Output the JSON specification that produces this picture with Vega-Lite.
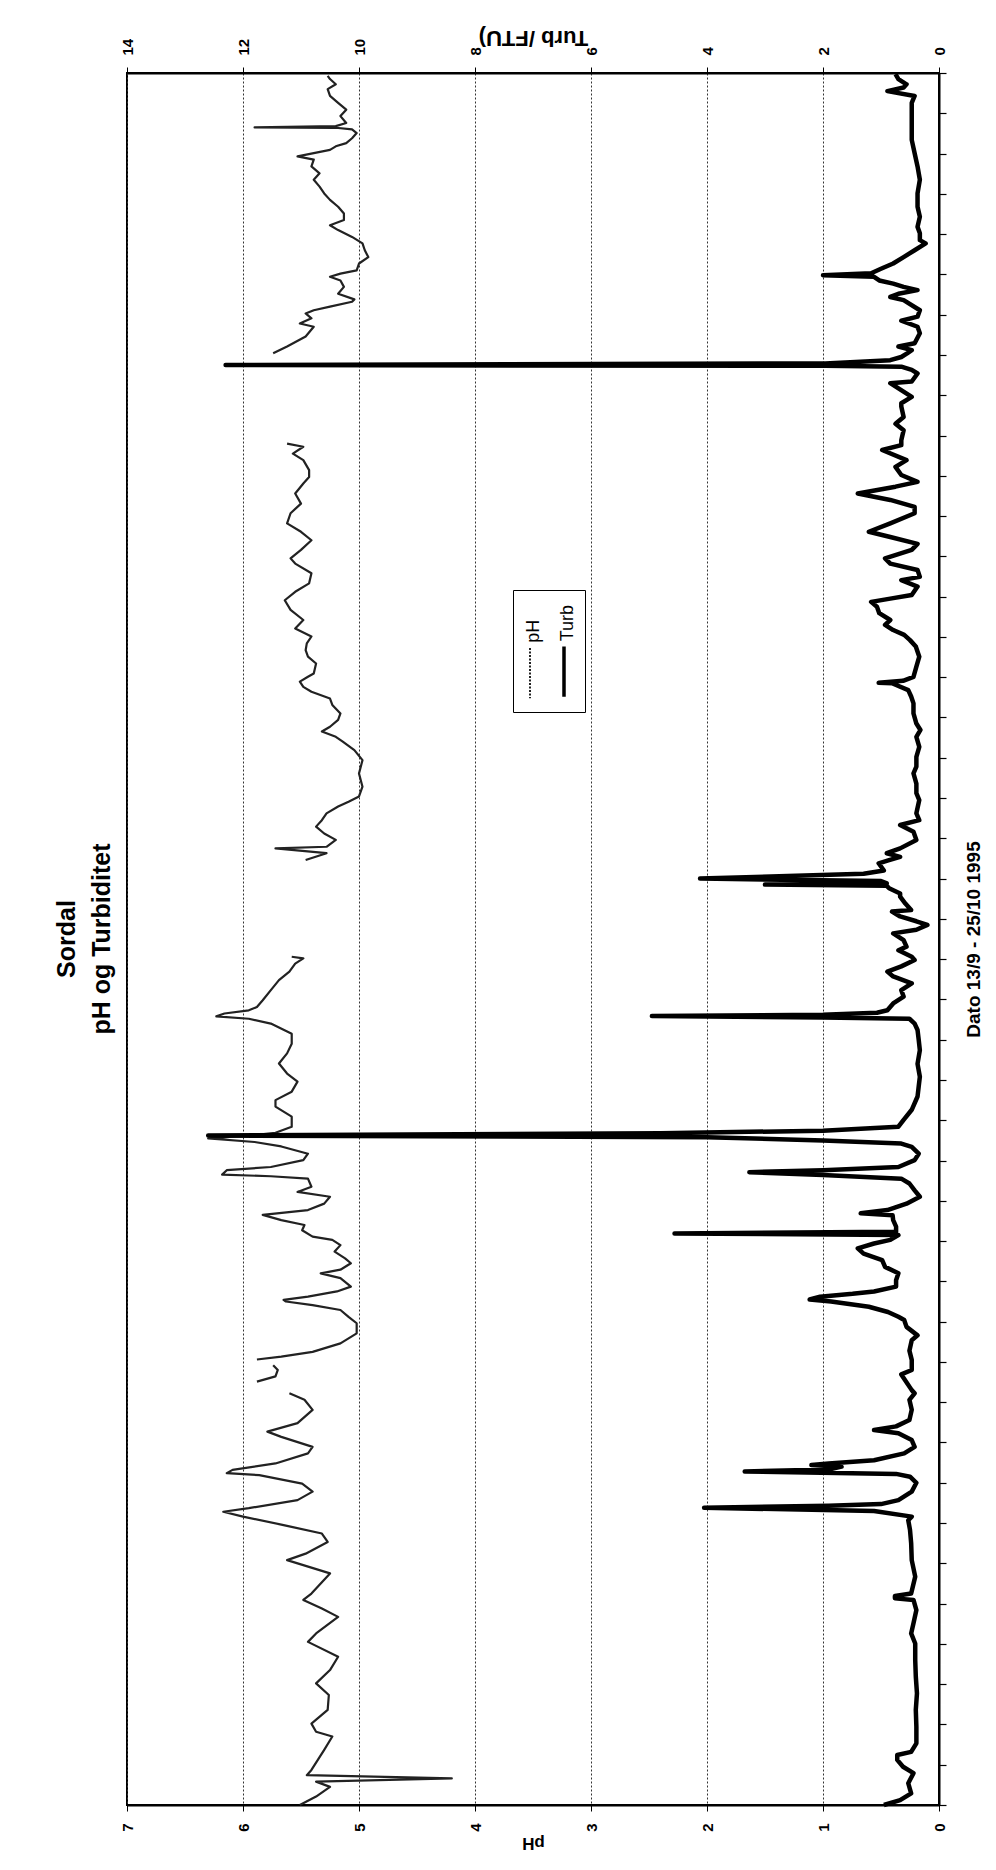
{
  "$schema": "https://vega.github.io/schema/vega-lite/v6.json",
  "width": 812,
  "height": 1732,
  "autosize": {"type": "none"},
  "padding": {"left": 127, "top": 73, "right": 57, "bottom": 65},
  "background": "white",
  "config": {
    "font": "Liberation Sans",
    "view": {"stroke": "black", "strokeWidth": 2}
  },
  "title": {
    "text": ["Sordal", "pH  og Turbiditet"],
    "orient": "left",
    "anchor": "middle",
    "frame": "group",
    "offset": 5,
    "fontSize": 25,
    "fontWeight": "bold",
    "lineHeight": 35,
    "color": "black"
  },
  "data": {"values": [
    {"s":"pH","g":1,"t":0,"v":5.51},{"s":"pH","g":1,"t":0.21,"v":5.37},{"s":"pH","g":1,"t":0.45,"v":5.25},{"s":"pH","g":1,"t":0.58,"v":5.37},{"s":"pH","g":1,"t":0.66,"v":4.2},{"s":"pH","g":1,"t":0.74,"v":5.45},{"s":"pH","g":1,"t":0.87,"v":5.41},{"s":"pH","g":1,"t":1.37,"v":5.30},{"s":"pH","g":1,"t":1.70,"v":5.23},{"s":"pH","g":1,"t":1.82,"v":5.37},{"s":"pH","g":1,"t":2.02,"v":5.41},{"s":"pH","g":1,"t":2.36,"v":5.27},{"s":"pH","g":1,"t":2.73,"v":5.26},{"s":"pH","g":1,"t":3.02,"v":5.37},{"s":"pH","g":1,"t":3.35,"v":5.25},{"s":"pH","g":1,"t":3.68,"v":5.18},{"s":"pH","g":1,"t":4.05,"v":5.44},{"s":"pH","g":1,"t":4.26,"v":5.37},{"s":"pH","g":1,"t":4.67,"v":5.18},{"s":"pH","g":1,"t":4.88,"v":5.32},{"s":"pH","g":1,"t":5.09,"v":5.48},{"s":"pH","g":1,"t":5.25,"v":5.41},{"s":"pH","g":1,"t":5.75,"v":5.25},{"s":"pH","g":1,"t":6.08,"v":5.62},{"s":"pH","g":1,"t":6.24,"v":5.46},{"s":"pH","g":1,"t":6.53,"v":5.27},{"s":"pH","g":1,"t":6.74,"v":5.32},{"s":"pH","g":1,"t":6.95,"v":5.65},{"s":"pH","g":1,"t":7.16,"v":6.0},{"s":"pH","g":1,"t":7.28,"v":6.17},{"s":"pH","g":1,"t":7.37,"v":5.95},{"s":"pH","g":1,"t":7.57,"v":5.53},{"s":"pH","g":1,"t":7.78,"v":5.40},{"s":"pH","g":1,"t":7.98,"v":5.49},{"s":"pH","g":1,"t":8.19,"v":5.86},{"s":"pH","g":1,"t":8.24,"v":6.14},{"s":"pH","g":1,"t":8.32,"v":6.09},{"s":"pH","g":1,"t":8.48,"v":5.72},{"s":"pH","g":1,"t":8.73,"v":5.44},{"s":"pH","g":1,"t":8.89,"v":5.40},{"s":"pH","g":1,"t":9.14,"v":5.67},{"s":"pH","g":1,"t":9.27,"v":5.79},{"s":"pH","g":1,"t":9.48,"v":5.53},{"s":"pH","g":1,"t":9.81,"v":5.40},{"s":"pH","g":1,"t":10.06,"v":5.47},{"s":"pH","g":1,"t":10.22,"v":5.60},
    {"s":"pH","g":2,"t":10.51,"v":5.88},{"s":"pH","g":2,"t":10.64,"v":5.72},{"s":"pH","g":2,"t":10.80,"v":5.70},{"s":"pH","g":2,"t":10.92,"v":5.74},
    {"s":"pH","g":3,"t":11.06,"v":5.88},{"s":"pH","g":3,"t":11.13,"v":5.67},{"s":"pH","g":3,"t":11.25,"v":5.40},{"s":"pH","g":3,"t":11.46,"v":5.16},{"s":"pH","g":3,"t":11.71,"v":5.02},{"s":"pH","g":3,"t":11.96,"v":5.02},{"s":"pH","g":3,"t":12.12,"v":5.09},{"s":"pH","g":3,"t":12.29,"v":5.16},{"s":"pH","g":3,"t":12.41,"v":5.40},{"s":"pH","g":3,"t":12.50,"v":5.63},{"s":"pH","g":3,"t":12.54,"v":5.65},{"s":"pH","g":3,"t":12.62,"v":5.44},{"s":"pH","g":3,"t":12.75,"v":5.19},{"s":"pH","g":3,"t":12.87,"v":5.07},{"s":"pH","g":3,"t":13.08,"v":5.16},{"s":"pH","g":3,"t":13.20,"v":5.33},{"s":"pH","g":3,"t":13.29,"v":5.16},{"s":"pH","g":3,"t":13.45,"v":5.07},{"s":"pH","g":3,"t":13.57,"v":5.12},{"s":"pH","g":3,"t":13.74,"v":5.21},{"s":"pH","g":3,"t":13.90,"v":5.16},{"s":"pH","g":3,"t":14.03,"v":5.23},{"s":"pH","g":3,"t":14.11,"v":5.40},{"s":"pH","g":3,"t":14.27,"v":5.49},{"s":"pH","g":3,"t":14.40,"v":5.47},{"s":"pH","g":3,"t":14.52,"v":5.67},{"s":"pH","g":3,"t":14.65,"v":5.83},{"s":"pH","g":3,"t":14.77,"v":5.44},{"s":"pH","g":3,"t":14.93,"v":5.30},{"s":"pH","g":3,"t":15.10,"v":5.25},{"s":"pH","g":3,"t":15.22,"v":5.53},{"s":"pH","g":3,"t":15.35,"v":5.41},{"s":"pH","g":3,"t":15.55,"v":5.44},{"s":"pH","g":3,"t":15.61,"v":5.76},{"s":"pH","g":3,"t":15.65,"v":6.18},{"s":"pH","g":3,"t":15.76,"v":6.14},{"s":"pH","g":3,"t":15.84,"v":5.76},{"s":"pH","g":3,"t":16.01,"v":5.48},{"s":"pH","g":3,"t":16.17,"v":5.44},{"s":"pH","g":3,"t":16.35,"v":5.67},{"s":"pH","g":3,"t":16.46,"v":5.90},{"s":"pH","g":3,"t":16.55,"v":6.30},{"s":"pH","g":3,"t":16.63,"v":5.90},{"s":"pH","g":3,"t":16.69,"v":5.72},{"s":"pH","g":3,"t":16.84,"v":5.58},{"s":"pH","g":3,"t":17.09,"v":5.58},{"s":"pH","g":3,"t":17.34,"v":5.72},{"s":"pH","g":3,"t":17.50,"v":5.72},{"s":"pH","g":3,"t":17.71,"v":5.58},{"s":"pH","g":3,"t":17.96,"v":5.53},{"s":"pH","g":3,"t":18.16,"v":5.62},{"s":"pH","g":3,"t":18.41,"v":5.69},{"s":"pH","g":3,"t":18.66,"v":5.62},{"s":"pH","g":3,"t":18.90,"v":5.58},{"s":"pH","g":3,"t":19.15,"v":5.58},{"s":"pH","g":3,"t":19.40,"v":5.76},{"s":"pH","g":3,"t":19.52,"v":5.95},{"s":"pH","g":3,"t":19.58,"v":6.23},{"s":"pH","g":3,"t":19.65,"v":6.16},{"s":"pH","g":3,"t":19.73,"v":5.95},{"s":"pH","g":3,"t":19.81,"v":5.88},{"s":"pH","g":3,"t":19.98,"v":5.83},{"s":"pH","g":3,"t":20.23,"v":5.76},{"s":"pH","g":3,"t":20.48,"v":5.69},{"s":"pH","g":3,"t":20.69,"v":5.60},{"s":"pH","g":3,"t":20.89,"v":5.55},{"s":"pH","g":3,"t":21.02,"v":5.48},{"s":"pH","g":3,"t":21.06,"v":5.58},
    {"s":"pH","g":4,"t":23.46,"v":5.46},{"s":"pH","g":4,"t":23.63,"v":5.28},{"s":"pH","g":4,"t":23.75,"v":5.72},{"s":"pH","g":4,"t":23.79,"v":5.28},{"s":"pH","g":4,"t":23.96,"v":5.20},{"s":"pH","g":4,"t":24.12,"v":5.30},{"s":"pH","g":4,"t":24.29,"v":5.37},{"s":"pH","g":4,"t":24.45,"v":5.32},{"s":"pH","g":4,"t":24.62,"v":5.28},{"s":"pH","g":4,"t":24.79,"v":5.18},{"s":"pH","g":4,"t":24.91,"v":5.09},{"s":"pH","g":4,"t":25.04,"v":5.00},{"s":"pH","g":4,"t":25.28,"v":4.97},{"s":"pH","g":4,"t":25.61,"v":5.00},{"s":"pH","g":4,"t":25.94,"v":4.97},{"s":"pH","g":4,"t":26.19,"v":5.04},{"s":"pH","g":4,"t":26.40,"v":5.14},{"s":"pH","g":4,"t":26.52,"v":5.20},{"s":"pH","g":4,"t":26.65,"v":5.32},{"s":"pH","g":4,"t":26.77,"v":5.25},{"s":"pH","g":4,"t":26.94,"v":5.18},{"s":"pH","g":4,"t":27.10,"v":5.16},{"s":"pH","g":4,"t":27.31,"v":5.23},{"s":"pH","g":4,"t":27.47,"v":5.25},{"s":"pH","g":4,"t":27.64,"v":5.41},{"s":"pH","g":4,"t":27.76,"v":5.48},{"s":"pH","g":4,"t":27.89,"v":5.51},{"s":"pH","g":4,"t":28.01,"v":5.44},{"s":"pH","g":4,"t":28.09,"v":5.39},{"s":"pH","g":4,"t":28.34,"v":5.37},{"s":"pH","g":4,"t":28.51,"v":5.44},{"s":"pH","g":4,"t":28.67,"v":5.46},{"s":"pH","g":4,"t":28.84,"v":5.45},{"s":"pH","g":4,"t":29.01,"v":5.41},{"s":"pH","g":4,"t":29.21,"v":5.55},{"s":"pH","g":4,"t":29.42,"v":5.48},{"s":"pH","g":4,"t":29.67,"v":5.59},{"s":"pH","g":4,"t":29.91,"v":5.64},{"s":"pH","g":4,"t":30.12,"v":5.55},{"s":"pH","g":4,"t":30.33,"v":5.43},{"s":"pH","g":4,"t":30.58,"v":5.41},{"s":"pH","g":4,"t":30.82,"v":5.55},{"s":"pH","g":4,"t":30.95,"v":5.59},{"s":"pH","g":4,"t":31.16,"v":5.50},{"s":"pH","g":4,"t":31.40,"v":5.41},{"s":"pH","g":4,"t":31.61,"v":5.50},{"s":"pH","g":4,"t":31.82,"v":5.62},{"s":"pH","g":4,"t":32.07,"v":5.59},{"s":"pH","g":4,"t":32.31,"v":5.50},{"s":"pH","g":4,"t":32.56,"v":5.55},{"s":"pH","g":4,"t":32.81,"v":5.48},{"s":"pH","g":4,"t":32.97,"v":5.43},{"s":"pH","g":4,"t":33.14,"v":5.43},{"s":"pH","g":4,"t":33.39,"v":5.48},{"s":"pH","g":4,"t":33.55,"v":5.57},{"s":"pH","g":4,"t":33.72,"v":5.48},{"s":"pH","g":4,"t":33.80,"v":5.62},
    {"s":"pH","g":5,"t":36.04,"v":5.74},{"s":"pH","g":5,"t":36.21,"v":5.62},{"s":"pH","g":5,"t":36.46,"v":5.46},{"s":"pH","g":5,"t":36.70,"v":5.39},{"s":"pH","g":5,"t":36.78,"v":5.51},{"s":"pH","g":5,"t":36.91,"v":5.41},{"s":"pH","g":5,"t":37.03,"v":5.46},{"s":"pH","g":5,"t":37.11,"v":5.39},{"s":"pH","g":5,"t":37.20,"v":5.25},{"s":"pH","g":5,"t":37.32,"v":5.06},{"s":"pH","g":5,"t":37.38,"v":5.04},{"s":"pH","g":5,"t":37.52,"v":5.18},{"s":"pH","g":5,"t":37.69,"v":5.13},{"s":"pH","g":5,"t":37.85,"v":5.16},{"s":"pH","g":5,"t":37.94,"v":5.25},{"s":"pH","g":5,"t":38.02,"v":5.16},{"s":"pH","g":5,"t":38.10,"v":5.02},{"s":"pH","g":5,"t":38.27,"v":5.00},{"s":"pH","g":5,"t":38.43,"v":4.92},{"s":"pH","g":5,"t":38.60,"v":4.95},{"s":"pH","g":5,"t":38.77,"v":4.97},{"s":"pH","g":5,"t":38.93,"v":5.06},{"s":"pH","g":5,"t":39.10,"v":5.18},{"s":"pH","g":5,"t":39.22,"v":5.25},{"s":"pH","g":5,"t":39.35,"v":5.13},{"s":"pH","g":5,"t":39.51,"v":5.13},{"s":"pH","g":5,"t":39.68,"v":5.18},{"s":"pH","g":5,"t":39.85,"v":5.25},{"s":"pH","g":5,"t":40.01,"v":5.30},{"s":"pH","g":5,"t":40.18,"v":5.34},{"s":"pH","g":5,"t":40.35,"v":5.39},{"s":"pH","g":5,"t":40.51,"v":5.34},{"s":"pH","g":5,"t":40.68,"v":5.41},{"s":"pH","g":5,"t":40.85,"v":5.39},{"s":"pH","g":5,"t":40.93,"v":5.53},{"s":"pH","g":5,"t":41.09,"v":5.25},{"s":"pH","g":5,"t":41.18,"v":5.20},{"s":"pH","g":5,"t":41.26,"v":5.11},{"s":"pH","g":5,"t":41.38,"v":5.06},{"s":"pH","g":5,"t":41.51,"v":5.02},{"s":"pH","g":5,"t":41.60,"v":5.06},{"s":"pH","g":5,"t":41.64,"v":5.20},{"s":"pH","g":5,"t":41.65,"v":5.90},{"s":"pH","g":5,"t":41.68,"v":5.20},{"s":"pH","g":5,"t":41.76,"v":5.11},{"s":"pH","g":5,"t":41.93,"v":5.16},{"s":"pH","g":5,"t":42.09,"v":5.11},{"s":"pH","g":5,"t":42.26,"v":5.18},{"s":"pH","g":5,"t":42.43,"v":5.25},{"s":"pH","g":5,"t":42.60,"v":5.27},{"s":"pH","g":5,"t":42.72,"v":5.20},{"s":"pH","g":5,"t":42.85,"v":5.25},{"s":"pH","g":5,"t":42.93,"v":5.27},
    {"s":"Turb","g":9,"t":0.00,"v":0.95},{"s":"Turb","g":9,"t":0.12,"v":0.67},{"s":"Turb","g":9,"t":0.29,"v":0.48},{"s":"Turb","g":9,"t":0.54,"v":0.53},{"s":"Turb","g":9,"t":0.79,"v":0.44},{"s":"Turb","g":9,"t":0.95,"v":0.62},{"s":"Turb","g":9,"t":1.12,"v":0.72},{"s":"Turb","g":9,"t":1.24,"v":0.72},{"s":"Turb","g":9,"t":1.32,"v":0.48},{"s":"Turb","g":9,"t":1.53,"v":0.39},{"s":"Turb","g":9,"t":1.94,"v":0.39},{"s":"Turb","g":9,"t":2.36,"v":0.40},{"s":"Turb","g":9,"t":2.77,"v":0.38},{"s":"Turb","g":9,"t":3.19,"v":0.40},{"s":"Turb","g":9,"t":3.60,"v":0.41},{"s":"Turb","g":9,"t":4.01,"v":0.41},{"s":"Turb","g":9,"t":4.26,"v":0.48},{"s":"Turb","g":9,"t":4.51,"v":0.44},{"s":"Turb","g":9,"t":4.84,"v":0.39},{"s":"Turb","g":9,"t":5.09,"v":0.44},{"s":"Turb","g":9,"t":5.13,"v":0.76},{"s":"Turb","g":9,"t":5.19,"v":0.76},{"s":"Turb","g":9,"t":5.25,"v":0.48},{"s":"Turb","g":9,"t":5.67,"v":0.41},{"s":"Turb","g":9,"t":6.08,"v":0.47},{"s":"Turb","g":9,"t":6.50,"v":0.48},{"s":"Turb","g":9,"t":6.83,"v":0.50},{"s":"Turb","g":9,"t":7.07,"v":0.53},{"s":"Turb","g":9,"t":7.16,"v":0.47},{"s":"Turb","g":9,"t":7.30,"v":1.12},{"s":"Turb","g":9,"t":7.38,"v":4.05},{"s":"Turb","g":9,"t":7.43,"v":1.9},{"s":"Turb","g":9,"t":7.47,"v":1.0},{"s":"Turb","g":9,"t":7.57,"v":0.70},{"s":"Turb","g":9,"t":7.78,"v":0.47},{"s":"Turb","g":9,"t":8.00,"v":0.39},{"s":"Turb","g":9,"t":8.15,"v":0.50},{"s":"Turb","g":9,"t":8.22,"v":0.74},{"s":"Turb","g":9,"t":8.28,"v":3.35},{"s":"Turb","g":9,"t":8.33,"v":1.9},{"s":"Turb","g":9,"t":8.40,"v":1.68},{"s":"Turb","g":9,"t":8.44,"v":2.2},{"s":"Turb","g":9,"t":8.48,"v":1.9},{"s":"Turb","g":9,"t":8.56,"v":1.12},{"s":"Turb","g":9,"t":8.73,"v":0.60},{"s":"Turb","g":9,"t":8.89,"v":0.42},{"s":"Turb","g":9,"t":9.06,"v":0.47},{"s":"Turb","g":9,"t":9.23,"v":0.70},{"s":"Turb","g":9,"t":9.31,"v":1.12},{"s":"Turb","g":9,"t":9.40,"v":0.74},{"s":"Turb","g":9,"t":9.56,"v":0.51},{"s":"Turb","g":9,"t":9.81,"v":0.47},{"s":"Turb","g":9,"t":10.06,"v":0.51},{"s":"Turb","g":9,"t":10.22,"v":0.42},{"s":"Turb","g":9,"t":10.30,"v":0.47},{"s":"Turb","g":9,"t":10.69,"v":0.65},{"s":"Turb","g":9,"t":10.80,"v":0.47},{"s":"Turb","g":9,"t":11.05,"v":0.47},{"s":"Turb","g":9,"t":11.28,"v":0.51},{"s":"Turb","g":9,"t":11.54,"v":0.47},{"s":"Turb","g":9,"t":11.66,"v":0.37},{"s":"Turb","g":9,"t":11.87,"v":0.56},{"s":"Turb","g":9,"t":12.04,"v":0.60},{"s":"Turb","g":9,"t":12.12,"v":0.70},{"s":"Turb","g":9,"t":12.24,"v":0.88},{"s":"Turb","g":9,"t":12.37,"v":1.21},{"s":"Turb","g":9,"t":12.50,"v":1.86},{"s":"Turb","g":9,"t":12.55,"v":2.23},{"s":"Turb","g":9,"t":12.62,"v":2.05},{"s":"Turb","g":9,"t":12.69,"v":1.49},{"s":"Turb","g":9,"t":12.75,"v":1.12},{"s":"Turb","g":9,"t":12.87,"v":0.74},{"s":"Turb","g":9,"t":13.03,"v":0.74},{"s":"Turb","g":9,"t":13.20,"v":0.70},{"s":"Turb","g":9,"t":13.36,"v":0.93},{"s":"Turb","g":9,"t":13.53,"v":0.98},{"s":"Turb","g":9,"t":13.69,"v":1.30},{"s":"Turb","g":9,"t":13.82,"v":1.40},{"s":"Turb","g":9,"t":13.94,"v":1.12},{"s":"Turb","g":9,"t":14.03,"v":0.84},{"s":"Turb","g":9,"t":14.15,"v":0.70},{"s":"Turb","g":9,"t":14.19,"v":4.56},{"s":"Turb","g":9,"t":14.23,"v":0.74},{"s":"Turb","g":9,"t":14.36,"v":0.74},{"s":"Turb","g":9,"t":14.52,"v":0.79},{"s":"Turb","g":9,"t":14.64,"v":0.80},{"s":"Turb","g":9,"t":14.69,"v":1.35},{"s":"Turb","g":9,"t":14.77,"v":0.89},{"s":"Turb","g":9,"t":14.93,"v":0.56},{"s":"Turb","g":9,"t":15.10,"v":0.33},{"s":"Turb","g":9,"t":15.26,"v":0.42},{"s":"Turb","g":9,"t":15.43,"v":0.51},{"s":"Turb","g":9,"t":15.55,"v":0.65},{"s":"Turb","g":9,"t":15.64,"v":2.0},{"s":"Turb","g":9,"t":15.71,"v":3.27},{"s":"Turb","g":9,"t":15.76,"v":2.0},{"s":"Turb","g":9,"t":15.84,"v":0.70},{"s":"Turb","g":9,"t":16.01,"v":0.42},{"s":"Turb","g":9,"t":16.17,"v":0.35},{"s":"Turb","g":9,"t":16.34,"v":0.47},{"s":"Turb","g":9,"t":16.42,"v":0.65},{"s":"Turb","g":9,"t":16.50,"v":2.0},{"s":"Turb","g":9,"t":16.58,"v":4.0},{"s":"Turb","g":9,"t":16.62,"v":12.6},{"s":"Turb","g":9,"t":16.68,"v":4.8},{"s":"Turb","g":9,"t":16.74,"v":2.0},{"s":"Turb","g":9,"t":16.84,"v":0.70},{"s":"Turb","g":9,"t":17.01,"v":0.61},{"s":"Turb","g":9,"t":17.26,"v":0.47},{"s":"Turb","g":9,"t":17.59,"v":0.37},{"s":"Turb","g":9,"t":17.84,"v":0.35},{"s":"Turb","g":9,"t":18.08,"v":0.33},{"s":"Turb","g":9,"t":18.40,"v":0.37},{"s":"Turb","g":9,"t":18.74,"v":0.33},{"s":"Turb","g":9,"t":19.00,"v":0.35},{"s":"Turb","g":9,"t":19.24,"v":0.37},{"s":"Turb","g":9,"t":19.40,"v":0.42},{"s":"Turb","g":9,"t":19.52,"v":0.51},{"s":"Turb","g":9,"t":19.55,"v":2.0},{"s":"Turb","g":9,"t":19.59,"v":4.95},{"s":"Turb","g":9,"t":19.62,"v":2.0},{"s":"Turb","g":9,"t":19.67,"v":1.07},{"s":"Turb","g":9,"t":19.73,"v":0.89},{"s":"Turb","g":9,"t":19.90,"v":0.79},{"s":"Turb","g":9,"t":20.07,"v":0.61},{"s":"Turb","g":9,"t":20.23,"v":0.65},{"s":"Turb","g":9,"t":20.40,"v":0.47},{"s":"Turb","g":9,"t":20.57,"v":0.79},{"s":"Turb","g":9,"t":20.69,"v":0.89},{"s":"Turb","g":9,"t":20.82,"v":0.65},{"s":"Turb","g":9,"t":20.98,"v":0.42},{"s":"Turb","g":9,"t":21.06,"v":0.47},{"s":"Turb","g":9,"t":21.22,"v":0.70},{"s":"Turb","g":9,"t":21.31,"v":0.56},{"s":"Turb","g":9,"t":21.47,"v":0.61},{"s":"Turb","g":9,"t":21.64,"v":0.79},{"s":"Turb","g":9,"t":21.73,"v":0.39},{"s":"Turb","g":9,"t":21.85,"v":0.20},{"s":"Turb","g":9,"t":21.94,"v":0.39},{"s":"Turb","g":9,"t":22.06,"v":0.67},{"s":"Turb","g":9,"t":22.18,"v":0.81},{"s":"Turb","g":9,"t":22.22,"v":0.48},{"s":"Turb","g":9,"t":22.38,"v":0.58},{"s":"Turb","g":9,"t":22.55,"v":0.67},{"s":"Turb","g":9,"t":22.63,"v":0.67},{"s":"Turb","g":9,"t":22.76,"v":0.86},{"s":"Turb","g":9,"t":22.82,"v":0.90},{"s":"Turb","g":9,"t":22.85,"v":3.0},{"s":"Turb","g":9,"t":22.88,"v":0.90},{"s":"Turb","g":9,"t":22.94,"v":1.0},{"s":"Turb","g":9,"t":23.00,"v":4.12},{"s":"Turb","g":9,"t":23.05,"v":2.9},{"s":"Turb","g":9,"t":23.12,"v":1.3},{"s":"Turb","g":9,"t":23.20,"v":0.95},{"s":"Turb","g":9,"t":23.38,"v":1.04},{"s":"Turb","g":9,"t":23.46,"v":0.86},{"s":"Turb","g":9,"t":23.54,"v":0.67},{"s":"Turb","g":9,"t":23.63,"v":0.90},{"s":"Turb","g":9,"t":23.75,"v":0.67},{"s":"Turb","g":9,"t":23.96,"v":0.39},{"s":"Turb","g":9,"t":24.16,"v":0.44},{"s":"Turb","g":9,"t":24.33,"v":0.67},{"s":"Turb","g":9,"t":24.45,"v":0.34},{"s":"Turb","g":9,"t":24.62,"v":0.39},{"s":"Turb","g":9,"t":24.95,"v":0.34},{"s":"Turb","g":9,"t":25.12,"v":0.39},{"s":"Turb","g":9,"t":25.36,"v":0.39},{"s":"Turb","g":9,"t":25.61,"v":0.44},{"s":"Turb","g":9,"t":25.78,"v":0.39},{"s":"Turb","g":9,"t":26.02,"v":0.39},{"s":"Turb","g":9,"t":26.27,"v":0.34},{"s":"Turb","g":9,"t":26.52,"v":0.39},{"s":"Turb","g":9,"t":26.69,"v":0.32},{"s":"Turb","g":9,"t":26.85,"v":0.39},{"s":"Turb","g":9,"t":27.10,"v":0.44},{"s":"Turb","g":9,"t":27.35,"v":0.44},{"s":"Turb","g":9,"t":27.52,"v":0.48},{"s":"Turb","g":9,"t":27.68,"v":0.53},{"s":"Turb","g":9,"t":27.85,"v":0.81},{"s":"Turb","g":9,"t":27.86,"v":1.04},{"s":"Turb","g":9,"t":27.91,"v":0.62},{"s":"Turb","g":9,"t":28.01,"v":0.44},{"s":"Turb","g":9,"t":28.26,"v":0.39},{"s":"Turb","g":9,"t":28.51,"v":0.34},{"s":"Turb","g":9,"t":28.76,"v":0.40},{"s":"Turb","g":9,"t":28.92,"v":0.50},{"s":"Turb","g":9,"t":29.05,"v":0.60},{"s":"Turb","g":9,"t":29.17,"v":0.79},{"s":"Turb","g":9,"t":29.30,"v":0.93},{"s":"Turb","g":9,"t":29.42,"v":0.84},{"s":"Turb","g":9,"t":29.59,"v":1.03},{"s":"Turb","g":9,"t":29.75,"v":1.07},{"s":"Turb","g":9,"t":29.87,"v":1.17},{"s":"Turb","g":9,"t":29.95,"v":0.84},{"s":"Turb","g":9,"t":30.04,"v":0.47},{"s":"Turb","g":9,"t":30.25,"v":0.37},{"s":"Turb","g":9,"t":30.41,"v":0.65},{"s":"Turb","g":9,"t":30.49,"v":0.33},{"s":"Turb","g":9,"t":30.66,"v":0.37},{"s":"Turb","g":9,"t":30.82,"v":0.84},{"s":"Turb","g":9,"t":30.95,"v":0.93},{"s":"Turb","g":9,"t":31.16,"v":0.47},{"s":"Turb","g":9,"t":31.31,"v":0.37},{"s":"Turb","g":9,"t":31.48,"v":0.84},{"s":"Turb","g":9,"t":31.61,"v":1.21},{"s":"Turb","g":9,"t":31.82,"v":0.84},{"s":"Turb","g":9,"t":32.07,"v":0.42},{"s":"Turb","g":9,"t":32.23,"v":0.42},{"s":"Turb","g":9,"t":32.40,"v":0.84},{"s":"Turb","g":9,"t":32.56,"v":1.40},{"s":"Turb","g":9,"t":32.73,"v":0.75},{"s":"Turb","g":9,"t":32.85,"v":0.37},{"s":"Turb","g":9,"t":33.02,"v":0.65},{"s":"Turb","g":9,"t":33.22,"v":0.75},{"s":"Turb","g":9,"t":33.39,"v":0.56},{"s":"Turb","g":9,"t":33.64,"v":0.98},{"s":"Turb","g":9,"t":33.76,"v":0.65},{"s":"Turb","g":9,"t":33.88,"v":0.65},{"s":"Turb","g":9,"t":34.13,"v":0.61},{"s":"Turb","g":9,"t":34.29,"v":0.75},{"s":"Turb","g":9,"t":34.46,"v":0.61},{"s":"Turb","g":9,"t":34.72,"v":0.65},{"s":"Turb","g":9,"t":34.80,"v":0.65},{"s":"Turb","g":9,"t":34.96,"v":0.47},{"s":"Turb","g":9,"t":35.30,"v":0.84},{"s":"Turb","g":9,"t":35.34,"v":0.47},{"s":"Turb","g":9,"t":35.54,"v":0.37},{"s":"Turb","g":9,"t":35.63,"v":0.47},{"s":"Turb","g":9,"t":35.71,"v":0.65},{"s":"Turb","g":9,"t":35.73,"v":1.96},{"s":"Turb","g":9,"t":35.75,"v":12.3},{"s":"Turb","g":9,"t":35.79,"v":1.96},{"s":"Turb","g":9,"t":35.87,"v":0.84},{"s":"Turb","g":9,"t":35.95,"v":0.65},{"s":"Turb","g":9,"t":36.04,"v":0.55},{"s":"Turb","g":9,"t":36.12,"v":0.47},{"s":"Turb","g":9,"t":36.21,"v":0.70},{"s":"Turb","g":9,"t":36.29,"v":0.42},{"s":"Turb","g":9,"t":36.54,"v":0.33},{"s":"Turb","g":9,"t":36.70,"v":0.37},{"s":"Turb","g":9,"t":36.85,"v":0.65},{"s":"Turb","g":9,"t":36.95,"v":0.37},{"s":"Turb","g":9,"t":37.11,"v":0.33},{"s":"Turb","g":9,"t":37.36,"v":0.61},{"s":"Turb","g":9,"t":37.44,"v":0.84},{"s":"Turb","g":9,"t":37.52,"v":0.70},{"s":"Turb","g":9,"t":37.61,"v":0.37},{"s":"Turb","g":9,"t":37.69,"v":0.61},{"s":"Turb","g":9,"t":37.77,"v":0.79},{"s":"Turb","g":9,"t":37.85,"v":1.03},{"s":"Turb","g":9,"t":37.94,"v":1.12},{"s":"Turb","g":9,"t":37.98,"v":2.0},{"s":"Turb","g":9,"t":38.03,"v":1.17},{"s":"Turb","g":9,"t":38.14,"v":1.0},{"s":"Turb","g":9,"t":38.27,"v":0.79},{"s":"Turb","g":9,"t":38.43,"v":0.61},{"s":"Turb","g":9,"t":38.60,"v":0.42},{"s":"Turb","g":9,"t":38.77,"v":0.23},{"s":"Turb","g":9,"t":38.85,"v":0.33},{"s":"Turb","g":9,"t":39.02,"v":0.33},{"s":"Turb","g":9,"t":39.18,"v":0.37},{"s":"Turb","g":9,"t":39.43,"v":0.33},{"s":"Turb","g":9,"t":39.68,"v":0.37},{"s":"Turb","g":9,"t":40.01,"v":0.37},{"s":"Turb","g":9,"t":40.35,"v":0.33},{"s":"Turb","g":9,"t":40.68,"v":0.37},{"s":"Turb","g":9,"t":41.01,"v":0.42},{"s":"Turb","g":9,"t":41.34,"v":0.47},{"s":"Turb","g":9,"t":41.67,"v":0.47},{"s":"Turb","g":9,"t":42.00,"v":0.47},{"s":"Turb","g":9,"t":42.26,"v":0.47},{"s":"Turb","g":9,"t":42.43,"v":0.42},{"s":"Turb","g":9,"t":42.55,"v":0.89},{"s":"Turb","g":9,"t":42.64,"v":0.61},{"s":"Turb","g":9,"t":42.72,"v":0.56},{"s":"Turb","g":9,"t":42.85,"v":0.70},{"s":"Turb","g":9,"t":42.97,"v":0.75}
  ]},
  "layer": [
    {
      "transform": [{"filter": "datum.s === 'pH'"}],
      "mark": {"type": "line", "strokeWidth": 2.2, "strokeJoin": "round"},
      "encoding": {
        "y": {"field": "t", "type": "quantitative", "scale": {"domain": [0, 43], "nice": false, "zero": false},
          "axis": {"orient": "right", "values": [0,1,2,3,4,5,6,7,8,9,10,11,12,13,14,15,16,17,18,19,20,21,22,23,24,25,26,27,28,29,30,31,32,33,34,35,36,37,38,39,40,41,42,43],
            "labels": false, "ticks": true, "tickSize": 7, "tickColor": "black", "tickWidth": 1.2, "domainColor": "black", "domainWidth": 2, "grid": false,
            "title": "Dato 13/9 - 25/10 1995", "titleAngle": -90, "titleBaseline": "top", "titlePadding": 18, "titleFontSize": 19, "titleFontWeight": "bold", "titleColor": "black"}},
        "x": {"field": "v", "type": "quantitative", "scale": {"domain": [0, 7], "reverse": true, "nice": false},
          "axis": {"orient": "bottom", "values": [0,1,2,3,4,5,6,7], "format": "d", "labelAngle": -90, "labelAlign": "right", "labelBaseline": "middle",
            "labelFontSize": 15, "labelFontWeight": "bold", "labelColor": "black", "labelPadding": 12, "tickSize": 6, "tickColor": "black", "domainColor": "black", "domainWidth": 2,
            "grid": true, "gridDash": [2, 2], "gridColor": "#333", "gridWidth": 1,
            "title": "pH", "titleAngle": 180, "titleBaseline": "bottom", "titlePadding": 2, "titleFontSize": 17, "titleFontWeight": "bold", "titleColor": "black"}},
        "detail": {"field": "g"},
        "order": {"field": "t", "type": "quantitative"},
        "color": {"field": "s", "type": "nominal", "scale": {"domain": ["pH", "Turb"], "range": ["#222222", "#000000"]},
          "legend": {"orient": "none", "legendX": 386, "legendY": 517, "direction": "horizontal", "title": null,
            "strokeColor": "black", "fillColor": "white", "padding": 8,
            "symbolType": "M0,7.4L0,16.9", "symbolSize": 112, "symbolStrokeWidth": 2.5,
            "labelFontSize": 18, "labelColor": "black", "labelOffset": -5.3, "labelAlign": "left", "labelBaseline": "middle", "columnPadding": 12,
            "encode": {
              "symbols": {"update": {"strokeWidth": {"signal": "datum.value === 'Turb' ? 3.5 : 2"}, "strokeDash": {"signal": "datum.value === 'pH' ? [2, 1.5] : [1, 0]"}}},
              "labels": {"update": {"angle": {"value": -90}, "dx": {"value": -34}}}
            }}}
      }
    },
    {
      "transform": [{"filter": "datum.s === 'Turb'"}],
      "mark": {"type": "line", "strokeWidth": 4.5, "strokeJoin": "round"},
      "encoding": {
        "y": {"field": "t", "type": "quantitative"},
        "x": {"field": "v", "type": "quantitative", "scale": {"domain": [0, 14], "reverse": true, "nice": false},
          "axis": {"orient": "top", "values": [0,2,4,6,8,10,12,14], "format": "d", "labelAngle": -90, "labelAlign": "left", "labelBaseline": "middle",
            "labelFontSize": 15, "labelFontWeight": "bold", "labelColor": "black", "labelPadding": 12, "tickSize": 6, "tickColor": "black", "domainColor": "black", "domainWidth": 2,
            "grid": false,
            "title": "Turb /FTU)", "titleAngle": 180, "titleBaseline": "top", "titlePadding": -9, "titleFontSize": 22, "titleFontWeight": "bold", "titleColor": "black"}},
        "order": {"field": "t", "type": "quantitative"},
        "color": {"field": "s", "type": "nominal"}
      }
    }
  ],
  "resolve": {"scale": {"x": "independent"}}
}
